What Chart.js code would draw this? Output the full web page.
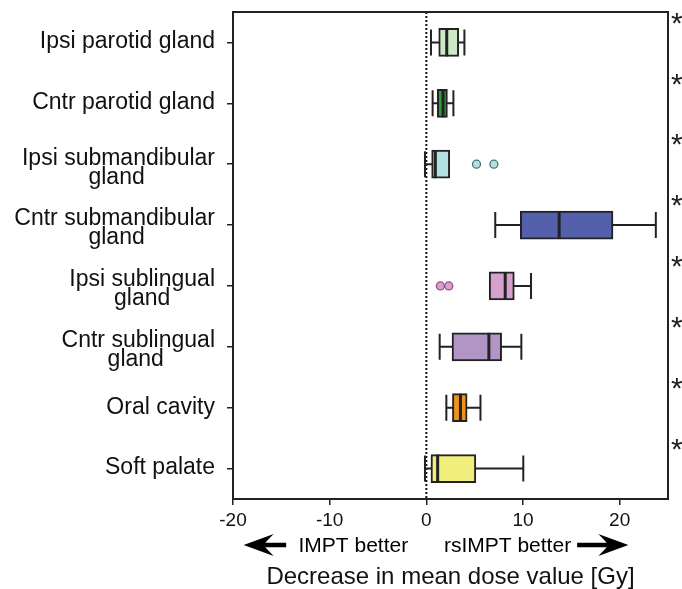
<!DOCTYPE html>
<html>
<head>
<meta charset="utf-8">
<script src="https://cdn.jsdelivr.net/npm/chart.js@4.4.1/dist/chart.umd.min.js"></script>
<style>
  html, body { margin: 0; padding: 0; background: #fff; }
</style>
</head>
<body>
<canvas id="boxChart" width="682" height="589"></canvas>
<script>
"use strict";

// organs at risk, top to bottom
var categories = [
    "Ipsi parotid gland",
    "Cntr parotid gland",
    "Ipsi submandibular gland",
    "Cntr submandibular gland",
    "Ipsi sublingual gland",
    "Cntr sublingual gland",
    "Oral cavity",
    "Soft palate"
];

// box plot statistics, Gy
var whiskerLow  = [0.48, 0.65, -0.14,  7.13,  6.50, 1.38, 2.07, -0.14];
var quart1      = [1.28, 1.14,  0.55,  9.72,  6.50, 2.66, 2.70,  0.48];
var medians     = [2.11, 1.73,  0.93, 13.74,  8.16, 6.47, 3.53,  1.17];
var quart3      = [3.35, 2.18,  2.42, 19.31,  9.10, 7.79, 4.22,  5.12];
var whiskerHigh = [3.94, 2.80,  2.42, 23.74, 10.83, 9.83, 5.60, 10.03];

var outlierCategory = ["Ipsi submandibular gland", "Ipsi submandibular gland",
                       "Ipsi sublingual gland", "Ipsi sublingual gland"];
var outlierValue = [5.19, 6.99, 1.45, 2.32];

var significance = ["*", "*", "*", "*", "*", "*", "*", "*"];
var xTickValues = [-20, -10, 0, 10, 20];

var boxColors = ["#cde8c5", "#2f9e3a", "#b3e0e3", "#5560ad",
                 "#d8a0cc", "#b095c5", "#f0921f", "#f0ef7d"];
var outlierBorders = {"Ipsi submandibular gland": "#4f6e70", "Ipsi sublingual gland": "#8e4f88"};

var FONT = '"Liberation Sans", Arial, sans-serif';
var LINE = "#222";

// split long labels and center the second line under the first.
// short labels get an empty 2nd line with a small line height so that,
// together with labelOffset, they stay centred on their tick while the
// two-line ones sit a little lower (as in the original figure)
var measure = document.createElement("canvas").getContext("2d");
measure.font = "23px " + FONT;
function isLong(label) { return measure.measureText(label).width >= 195; }
function wrapLabel(label) {
    if (!isLong(label)) return [label, ""];
    var cut = label.lastIndexOf(" ");
    var first = label.substring(0, cut), second = label.substring(cut + 1);
    var gap = (measure.measureText(first).width - measure.measureText(second).width) / 2;
    var n = Math.round(gap / measure.measureText("\u00a0").width);
    return [first, second + "\u00a0".repeat(n)];
}

var boxPlotParts = {
    id: "boxPlotParts",
    beforeDatasetsDraw: function(chart) {
        var ctx = chart.ctx, x = chart.scales.x, y = chart.scales.y, area = chart.chartArea;
        var zero = x.getPixelForValue(0);
        ctx.save();
        ctx.strokeStyle = "#111";
        ctx.lineWidth = 2;
        ctx.setLineDash([2, 2]);
        ctx.beginPath();
        ctx.moveTo(zero, area.top);
        ctx.lineTo(zero, area.bottom);
        ctx.stroke();
        ctx.setLineDash([]);

        ctx.strokeStyle = LINE;
        ctx.lineWidth = 2;
        var capHalf = 13;
        categories.forEach(function(c, i) {
            var cy = y.getPixelForValue(i);
            var lo = x.getPixelForValue(whiskerLow[i]);
            var hi = x.getPixelForValue(whiskerHigh[i]);
            ctx.beginPath();
            ctx.moveTo(lo, cy);
            ctx.lineTo(hi, cy);
            if (whiskerLow[i] < quart1[i]) {
                ctx.moveTo(lo, cy - capHalf);
                ctx.lineTo(lo, cy + capHalf);
            }
            if (whiskerHigh[i] > quart3[i]) {
                ctx.moveTo(hi, cy - capHalf);
                ctx.lineTo(hi, cy + capHalf);
            }
            ctx.stroke();
        });
        ctx.restore();
    },
    afterDatasetsDraw: function(chart) {
        var ctx = chart.ctx, x = chart.scales.x, area = chart.chartArea;
        var bars = chart.getDatasetMeta(0).data;
        ctx.save();
        ctx.strokeStyle = LINE;
        ctx.lineWidth = 3;
        bars.forEach(function(bar, i) {
            var mx = x.getPixelForValue(medians[i]);
            var half = bar.height / 2;
            ctx.beginPath();
            ctx.moveTo(mx, bar.y - half);
            ctx.lineTo(mx, bar.y + half);
            ctx.stroke();
        });
        ctx.lineWidth = 2;
        ctx.strokeRect(area.left, area.top, area.right - area.left, area.bottom - area.top);
        ctx.restore();
    },
    afterDraw: function(chart) {
        var ctx = chart.ctx, x = chart.scales.x;
        var cy = 545;
        function arrow(tip, tail) {
            var dir = tail > tip ? 1 : -1;
            var head = 30 * dir;
            ctx.beginPath();
            ctx.moveTo(tip, cy);
            ctx.lineTo(tip + head, cy - 11);
            ctx.lineTo(tip + head * 0.72, cy - 2.2);
            ctx.lineTo(tail, cy - 2.2);
            ctx.lineTo(tail, cy + 2.2);
            ctx.lineTo(tip + head * 0.72, cy + 2.2);
            ctx.lineTo(tip + head, cy + 11);
            ctx.closePath();
            ctx.fill();
        }
        ctx.save();
        ctx.fillStyle = "#000";
        arrow(x.getPixelForValue(-18.9), x.getPixelForValue(-14.5));
        arrow(x.getPixelForValue(20.9), x.getPixelForValue(15.6));
        ctx.font = "21px " + FONT;
        ctx.textAlign = "center";
        ctx.textBaseline = "alphabetic";
        ctx.fillText("IMPT better", x.getPixelForValue(-7.55), 552);
        ctx.fillText("rsIMPT better", x.getPixelForValue(8.4), 552);
        ctx.restore();
    }
};

function noVerticalPadding(scale) {
    scale.paddingTop = 0;
    scale.paddingBottom = 0;
}

var boxCanvas = document.getElementById("boxChart").getContext("2d");
window.boxChart = new Chart(boxCanvas, {
    type: "bar",
    data: {
        labels: categories,
        datasets: [{
            type: "bar",
            yAxisID: "y",
            data: quart1.map(function(q, i) { return [q, quart3[i]]; }),
            backgroundColor: boxColors,
            borderColor: LINE,
            borderWidth: 2,
            borderSkipped: false,
            barThickness: 28
        }, {
            type: "scatter",
            yAxisID: "y",
            data: outlierValue.map(function(v, i) { return {x: v, y: outlierCategory[i]}; }),
            pointRadius: 4,
            pointBorderWidth: 1.3,
            pointBackgroundColor: outlierCategory.map(function(c) { return boxColors[categories.indexOf(c)]; }),
            pointBorderColor: outlierCategory.map(function(c) { return outlierBorders[c]; })
        }]
    },
    options: {
        indexAxis: "y",
        responsive: false,
        animation: false,
        layout: { padding: { top: 12, left: 0, right: 0, bottom: 0 } },
        plugins: {
            legend: { display: false },
            tooltip: { enabled: false }
        },
        scales: {
            x: {
                type: "linear",
                position: "bottom",
                min: -20,
                max: 25,
                afterBuildTicks: function(scale) {
                    scale.ticks = xTickValues.map(function(v) { return {value: v}; });
                },
                afterFit: function(scale) { scale.height = 90; },
                grid: { display: true, drawOnChartArea: false, drawTicks: true, tickLength: 6, color: LINE, lineWidth: 1.5 },
                border: { display: false },
                ticks: { color: "#111", font: { family: FONT, size: 19 }, padding: 4, maxRotation: 0 },
                title: {
                    display: true,
                    text: "Decrease in mean dose value [Gy]",
                    color: "#111",
                    font: { family: FONT, size: 24, lineHeight: 1 },
                    padding: { top: 0, bottom: 0 }
                }
            },
            y: {
                type: "category",
                position: "left",
                offset: true,
                afterFit: function(scale) { scale.width = 233; noVerticalPadding(scale); },
                grid: { display: true, offset: false, drawOnChartArea: false, drawTicks: true, tickLength: 6, color: LINE, lineWidth: 1.5 },
                border: { display: false },
                ticks: {
                    color: "#111",
                    font: function(ctx) {
                        var long = isLong(categories[ctx.index] || "");
                        return { family: FONT, size: 23, lineHeight: long ? "19px" : "8px" };
                    },
                    padding: 12,
                    labelOffset: 3.5,
                    callback: function(value) { return wrapLabel(this.getLabelForValue(value)); }
                }
            },
            y2: {
                type: "category",
                position: "right",
                offset: true,
                afterFit: function(scale) { scale.width = 14; noVerticalPadding(scale); },
                grid: { display: false, drawTicks: false },
                border: { display: false },
                ticks: {
                    color: "#222",
                    font: { family: FONT, size: 30 },
                    padding: 3,
                    labelOffset: -18,
                    callback: function(value, index) { return significance[index]; }
                }
            }
        }
    },
    plugins: [boxPlotParts]
});
</script>
</body>
</html>
